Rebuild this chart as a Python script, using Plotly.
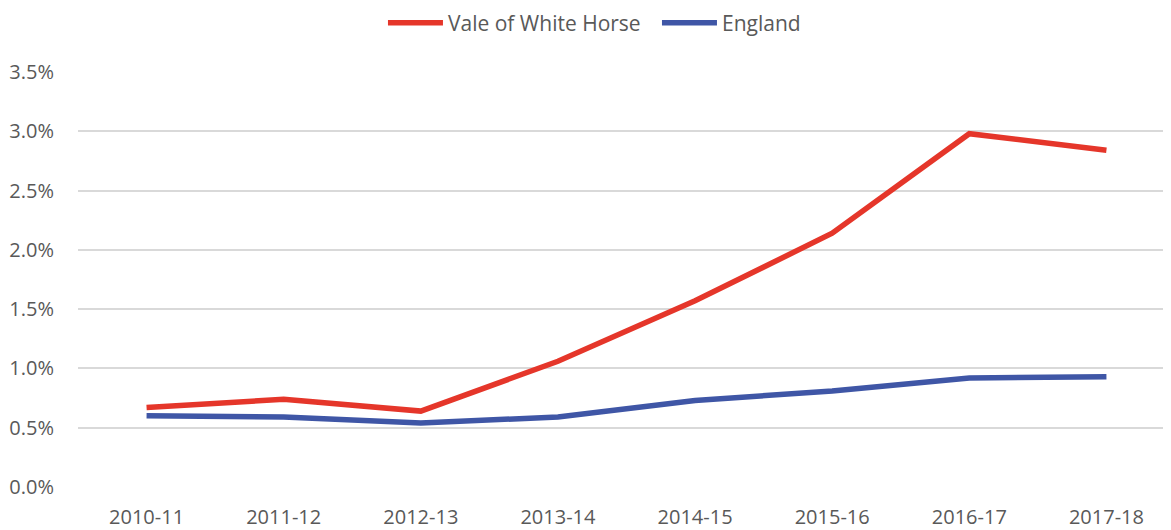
import plotly.graph_objects as go

years = ["2010-11", "2011-12", "2012-13", "2013-14", "2014-15", "2015-16", "2016-17", "2017-18"]
vale = [0.0067, 0.0074, 0.0064, 0.0106, 0.0157, 0.0214, 0.0298, 0.0284]
england = [0.0060, 0.0059, 0.0054, 0.0059, 0.0073, 0.0081, 0.0092, 0.0093]

fig = go.Figure()
fig.add_trace(go.Scatter(x=years, y=vale, name="Vale of White Horse", mode="lines",
                         line=dict(color="#E5362A", width=5.5)))
fig.add_trace(go.Scatter(x=years, y=england, name="England", mode="lines",
                         line=dict(color="#3F56A6", width=5.5)))

fig.update_layout(
    width=1171, height=530,
    margin=dict(l=70, r=4, t=64, b=51, autoexpand=False),
    paper_bgcolor="white", plot_bgcolor="white",
    font=dict(family="Open Sans", size=20, color="#595959"),
    legend=dict(orientation="h", x=0.278, xanchor="left", xref="paper",
                yref="container", y=1 - 15 / 530, yanchor="middle",
                font=dict(size=21, color="#595959"), traceorder="normal",
                itemwidth=55, entrywidth=204, entrywidthmode="pixels"),
    xaxis=dict(type="category", range=[-0.5, 7.5], showgrid=False, showline=False,
               ticks="", tickfont=dict(size=20), ticklabelstandoff=16, automargin=False),
    yaxis=dict(range=[0, 0.035], dtick=0.005, tickformat=".1%", showgrid=True,
               gridcolor="#D9D9D9", gridwidth=1.5, zeroline=False, showline=False,
               ticks="", tickfont=dict(size=20), ticklabelstandoff=23, automargin=False),
)

fig.write_html("out.html")
